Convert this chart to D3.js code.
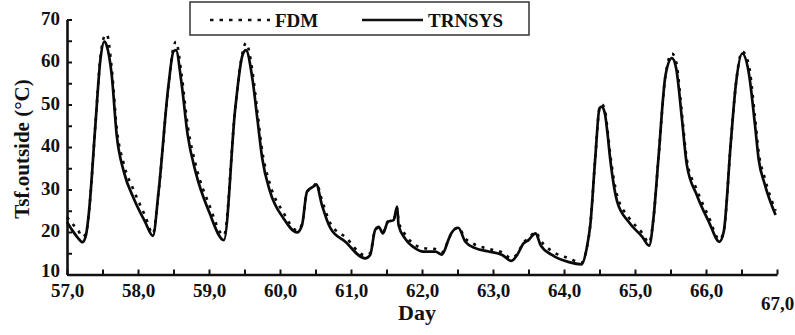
<!DOCTYPE html>
<html>
<head>
<meta charset="utf-8">
<script src="https://cdn.jsdelivr.net/npm/d3@7"></script>
<style>
  html, body { margin: 0; padding: 0; background: #fff; }
  svg { display: block; }
  text { font-family: "Liberation Serif", "Times New Roman", serif; font-weight: bold; fill: #111; }
</style>
</head>
<body>
<svg id="chart" width="795" height="335"></svg>
<script>
// ---- data ----
const days = [
  57.00, 57.07, 57.15, 57.22, 57.27, 57.31, 57.40, 57.47, 57.525, 57.56,
  57.63, 57.70, 57.80, 57.94, 58.10, 58.21, 58.29, 58.43, 58.50, 58.535,
  58.61, 58.70, 58.81, 59.00, 59.21, 59.37, 59.47, 59.52, 59.61, 59.68,
  59.75, 59.86, 60.05, 60.24, 60.31, 60.38, 60.47, 60.51, 60.59, 60.71,
  60.92, 61.20, 61.27, 61.34, 61.39, 61.45, 61.52, 61.60, 61.65, 61.67,
  61.76, 61.90, 62.02, 62.19, 62.28, 62.38, 62.42, 62.51, 62.61, 62.75,
  62.94, 63.13, 63.26, 63.34, 63.43, 63.50, 63.60, 63.67, 63.83, 64.07,
  64.25, 64.32, 64.37, 64.44, 64.50, 64.535, 64.58, 64.61, 64.65, 64.75,
  64.91, 65.10, 65.20, 65.26, 65.33, 65.43, 65.52, 65.58, 65.66, 65.73,
  65.87, 66.04, 66.19, 66.25, 66.35, 66.42, 66.51, 66.60, 66.69, 66.74,
  66.83, 66.98
];
const trnsys = [
  22.4, 20.5, 18.7, 17.6, 19.5, 24.8, 45.2, 60.5, 64.8, 63.8,
  56.9, 42.8, 34.2, 27.9, 22.4, 19.1, 29.5, 54.6, 62.5, 62.8,
  55.4, 42.8, 34.2, 24.8, 18.1, 49.1, 61.5, 62.8, 56.2, 46.8,
  37.3, 29.5, 23.2, 19.9, 21.6, 29.5, 30.7, 31.2, 26.4, 20.9,
  17.7, 13.8, 14.6, 20.5, 21.2, 19.7, 22.4, 22.8, 26.0, 21.6,
  18.5, 16.2, 15.4, 15.4, 14.7, 18.5, 19.9, 21.0, 17.7, 16.2,
  15.4, 14.6, 13.2, 14.6, 17.3, 18.1, 19.7, 16.9, 14.6, 12.9,
  12.4, 16.2, 21.6, 37.3, 49.1, 49.5, 47.5, 43.6, 37.3, 27.1,
  22.4, 18.9, 16.8, 23.2, 37.3, 56.9, 60.9, 58.5, 46.8, 35.8,
  28.7, 22.4, 17.7, 20.1, 41.2, 54.6, 62.0, 57.7, 45.2, 37.3,
  31.1, 24.0
];
const fdm = [
  23.5, 22.0, 20.6, 18.8, 19.8, 24.8, 45.2, 61.0, 66.0, 66.5,
  58.5, 44.5, 36.0, 29.8, 23.8, 19.6, 29.5, 54.6, 63.5, 64.8,
  57.5, 45.0, 36.0, 26.5, 19.2, 49.1, 62.0, 64.5, 58.0, 48.5,
  39.0, 31.2, 24.5, 20.4, 21.8, 29.5, 30.5, 31.5, 27.5, 22.0,
  18.8, 14.5, 15.0, 20.5, 21.0, 20.0, 22.5, 23.0, 25.5, 22.5,
  19.5, 17.0, 16.2, 16.0, 15.2, 18.5, 20.0, 21.0, 18.5, 17.0,
  16.0, 15.2, 13.8, 14.8, 17.5, 18.5, 20.0, 18.0, 15.5, 13.8,
  12.8, 16.2, 21.6, 37.3, 49.1, 50.0, 48.5, 44.5, 38.5, 28.5,
  23.5, 19.8, 17.5, 23.2, 37.3, 56.9, 62.0, 60.0, 48.0, 37.0,
  30.0, 23.5, 18.2, 20.2, 41.2, 54.6, 62.5, 59.5, 47.0, 39.0,
  32.5, 25.0
];
const xTickValues = [57, 57.5, 58, 58.5, 59, 59.5, 60, 60.5, 61, 61.5, 62, 62.5, 63, 63.5, 64, 64.5, 65, 65.5, 66, 66.5, 67];
const yTickValues = [10, 15, 20, 25, 30, 35, 40, 45, 50, 55, 60, 65, 70];
const seriesNames = ["FDM", "TRNSYS"];
const xTitle = "Day";
const yTitle = "Tsf.outside (°C)";

// ---- drawing ----
const svg = d3.select("#chart");
const x = d3.scaleLinear().domain([57, 67]).range([67, 777]);
const y = d3.scaleLinear().domain([10, 70]).range([274.5, 19.5]);
const commaFmt = d3.formatLocale({decimal: ",", thousands: ".", grouping: [3], currency: ["", ""]}).format(".1f");

// x axis
const xAxis = d3.axisBottom(x)
  .tickValues(xTickValues)
  .tickSizeInner(-5)
  .tickSizeOuter(0)
  .tickPadding(9)
  .tickFormat(d => Number.isInteger(d) ? commaFmt(d) : "");
const gx = svg.append("g").attr("transform", `translate(0,${y(10)})`).call(xAxis);
gx.select(".domain").attr("stroke", "#111").attr("stroke-width", 2.6);
gx.selectAll(".tick line").attr("stroke", "#111").attr("stroke-width", 2);
gx.selectAll(".tick text").attr("font-size", 19).attr("font-family", null).attr("fill", "#111");
gx.selectAll(".tick").filter(d => d === 67).select("text").attr("y", 22);

// y axis
const yAxis = d3.axisLeft(y)
  .tickValues(yTickValues)
  .tickSizeInner(-5)
  .tickSizeOuter(0)
  .tickPadding(7)
  .tickFormat(d => d % 10 === 0 ? d : "");
const gy = svg.append("g").attr("transform", `translate(${x(57)},0)`).call(yAxis);
gy.select(".domain").attr("stroke", "#111").attr("stroke-width", 2.6);
gy.selectAll(".tick line").attr("stroke", "#111").attr("stroke-width", 2);
gy.selectAll(".tick text").attr("font-size", 19).attr("font-family", null).attr("fill", "#111")
  .attr("dy", "0.25em");
gy.selectAll(".tick").filter(d => d === 10).select("text").attr("y", -3);

// titles
svg.append("text").attr("x", 417).attr("y", 320).attr("text-anchor", "middle")
  .attr("font-size", 22).text(xTitle);
svg.append("text").attr("transform", "translate(29,149) rotate(-90)").attr("text-anchor", "middle")
  .attr("font-size", 21).text(yTitle);

// lines
const line = vals => d3.line()
  .x((d, i) => x(days[i]))
  .y(d => y(d))
  .curve(d3.curveMonotoneX)(vals);

svg.append("path").attr("d", line(trnsys))
  .attr("fill", "none").attr("stroke", "#0a0a0a").attr("stroke-width", 2.7)
  .attr("stroke-linejoin", "round");
svg.append("path").attr("d", line(fdm))
  .attr("fill", "none").attr("stroke", "#0a0a0a").attr("stroke-width", 2.6)
  .attr("stroke-dasharray", "3,6");

// legend
const lg = svg.append("g");
lg.append("rect").attr("x", 190).attr("y", 2).attr("width", 339).attr("height", 33)
  .attr("fill", "#fff").attr("stroke", "#333").attr("stroke-width", 1.5);
lg.append("line").attr("x1", 210).attr("x2", 270).attr("y1", 20).attr("y2", 20)
  .attr("stroke", "#111").attr("stroke-width", 2.6).attr("stroke-dasharray", "3.5,6");
lg.append("text").attr("x", 275).attr("y", 27).attr("font-size", 19).text(seriesNames[0]);
lg.append("line").attr("x1", 362).attr("x2", 423).attr("y1", 20).attr("y2", 20)
  .attr("stroke", "#111").attr("stroke-width", 2.7);
lg.append("text").attr("x", 428).attr("y", 27).attr("font-size", 19).text(seriesNames[1]);
</script>
</body>
</html>
